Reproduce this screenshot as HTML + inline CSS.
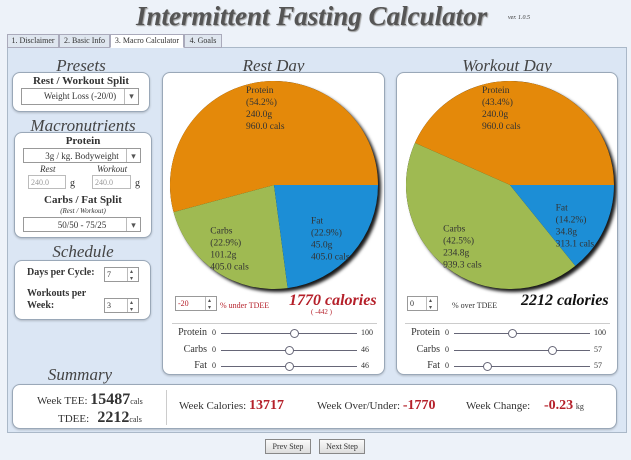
<!DOCTYPE html>
<html><head><meta charset="utf-8">
<style>
*{box-sizing:border-box}
body{margin:0;width:631px;height:460px;overflow:hidden;background:#edf2f9;font-family:"Liberation Serif",serif;color:#333;position:relative}
.a{position:absolute}
.h{font-style:italic;font-size:17px;color:#444;text-align:center}
.box{position:absolute;background:#fff;border:1px solid #9aa8b8;border-radius:8px;box-shadow:0 1px 2px rgba(0,0,0,.2)}
.sel{position:absolute;background:#fff;border:1px solid #999;font-size:9px;text-align:center;line-height:15px;color:#333}
.sel:after{content:"▾";position:absolute;right:0;top:0;width:13px;height:100%;border-left:1px solid #bbb;font-size:9px;line-height:15px;color:#555}
.inp{position:absolute;background:#fff;border:1px solid #bbb;font-size:8px;color:#999;padding-left:2px;line-height:13px}
.spin{position:absolute;background:#fff;border:1px solid #999;font-size:8px;padding-left:2px;line-height:14px}
.spin:after{content:"▴▾";position:absolute;right:0;top:0;width:10px;height:100%;border-left:1px solid #bbb;font-size:6px;line-height:6px;writing-mode:vertical-lr;text-align:center;color:#555}
.tab{position:absolute;top:34px;height:14px;border:1px solid #aab;background:#dfe6ef;font-size:8px;line-height:12px;text-align:center;color:#333}
.b{font-weight:bold}
.red{color:#b5202a}
.btn{position:absolute;top:439px;height:15px;border:1px solid #888;background:linear-gradient(#fafafa,#ddd);font-size:8px;line-height:13px;text-align:center}
</style></head><body>
<div class="a" style="left:136px;top:1px;font-size:27px;font-weight:bold;font-style:italic;color:#555;text-shadow:1px 1px 1px #999">Intermittent Fasting Calculator</div>
<div class="a" style="left:508px;top:15px;font-size:6px;font-style:italic">ver. 1.0.5</div>
<div class="a" style="left:7px;top:47px;width:620px;height:386px;background:#dbe6f4;border:1px solid #aab8c8"></div>
<div class="tab" style="left:7px;width:52px">1. Disclaimer</div>
<div class="tab" style="left:59px;width:51px">2. Basic Info</div>
<div class="tab" style="left:110px;width:74px;background:#fff;border-bottom-color:#fff">3. Macro Calculator</div>
<div class="tab" style="left:184px;width:38px">4. Goals</div>

<div class="a h" style="left:12px;top:56px;width:138px">Presets</div>
<div class="box" style="left:12px;top:72px;width:138px;height:40px">
 <div class="a b" style="left:0;top:2px;width:136px;text-align:center;font-size:11px">Rest / Workout Split</div>
 <div class="sel" style="left:8px;top:15px;width:118px;height:17px">Weight Loss (-20/0)</div>
</div>
<div class="a h" style="left:14px;top:116px;width:138px">Macronutrients</div>
<div class="box" style="left:14px;top:132px;width:138px;height:106px">
 <div class="a b" style="left:0;top:2px;width:136px;text-align:center;font-size:11px">Protein</div>
 <div class="sel" style="left:8px;top:15px;width:118px;height:15px">3g / kg. Bodyweight</div>
 <div class="a" style="left:25px;top:31px;font-size:9px;font-style:italic">Rest</div>
 <div class="a" style="left:82px;top:31px;font-size:9px;font-style:italic">Workout</div>
 <div class="inp" style="left:13px;top:42px;width:38px;height:14px">240.0</div>
 <div class="a" style="left:55px;top:45px;font-size:10px">g</div>
 <div class="inp" style="left:77px;top:42px;width:39px;height:14px">240.0</div>
 <div class="a" style="left:120px;top:45px;font-size:10px">g</div>
 <div class="a b" style="left:0;top:61px;width:136px;text-align:center;font-size:11px">Carbs / Fat Split</div>
 <div class="a" style="left:0;top:74px;width:136px;text-align:center;font-size:7px;font-style:italic">(Rest / Workout)</div>
 <div class="sel" style="left:8px;top:84px;width:118px;height:15px">50/50 - 75/25</div>
</div>
<div class="a h" style="left:14px;top:242px;width:138px">Schedule</div>
<div class="box" style="left:14px;top:260px;width:137px;height:60px">
 <div class="a b" style="left:12px;top:6px;font-size:10px">Days per Cycle:</div>
 <div class="spin" style="left:89px;top:6px;width:35px;height:15px">7</div>
 <div class="a b" style="left:12px;top:27px;font-size:10px;line-height:12px">Workouts per<br>Week:</div>
 <div class="spin" style="left:89px;top:37px;width:35px;height:15px">3</div>
</div>

<div class="a h" style="left:162px;top:56px;width:223px">Rest Day</div>
<div class="box" style="left:162px;top:72px;width:223px;height:303px;overflow:hidden"></div>
<div class="a h" style="left:396px;top:56px;width:222px">Workout Day</div>
<div class="box" style="left:396px;top:72px;width:222px;height:303px;overflow:hidden"></div>

<svg class="a" id="pies" style="left:0;top:0" width="631" height="460">
 <defs><filter id="sh" x="-20%" y="-20%" width="150%" height="150%"><feDropShadow dx="3" dy="3" stdDeviation="1.5" flood-color="#000" flood-opacity="0.9"/></filter>
 <clipPath id="c1"><rect x="163" y="73" width="221" height="300"/></clipPath>
 <clipPath id="c2"><rect x="397" y="73" width="220" height="300"/></clipPath></defs>
</svg>

<div class="spin" style="left:175px;top:296px;width:42px;height:15px;color:#b5202a">-20</div>
<div class="a red" style="left:220px;top:301px;font-size:8px">% under TDEE</div>
<div class="a red b" style="left:289px;top:292px;font-size:16px;font-style:italic">1770 calories</div>
<div class="a red" style="left:311px;top:308px;font-size:7px">( -442 )</div>
<div class="spin" style="left:407px;top:296px;width:31px;height:15px">0</div>
<div class="a" style="left:452px;top:301px;font-size:8px">% over TDEE</div>
<div class="a b" style="left:521px;top:292px;font-size:16px;font-style:italic;color:#111">2212 calories</div>
<div class="a" style="left:172px;top:323px;width:205px;height:1px;background:#ccc"></div>
<div class="a" style="left:405px;top:323px;width:205px;height:1px;background:#ccc"></div>
<div id="sliders"></div>

<div class="a h" style="left:30px;top:365px;width:100px">Summary</div>
<div class="box" style="left:12px;top:384px;width:605px;height:45px">
 <div class="a" style="left:24px;top:6px;font-size:11px">Week TEE: <b style="font-size:16px">15487</b><span style="font-size:8px">cals</span></div>
 <div class="a" style="left:45px;top:24px;font-size:11px">TDEE: &nbsp; <b style="font-size:16px">2212</b><span style="font-size:8px">cals</span></div>
 <div class="a" style="left:153px;top:5px;width:1px;height:35px;background:#ccc"></div>
 <div class="a" style="left:166px;top:13px;font-size:11px">Week Calories: <b class="red" style="font-size:14px">13717</b></div>
 <div class="a" style="left:304px;top:13px;font-size:11px">Week Over/Under: <b class="red" style="font-size:14px">-1770</b></div>
 <div class="a" style="left:453px;top:13px;font-size:11px">Week Change: &nbsp; &nbsp; <b class="red" style="font-size:14px">-0.23</b> <span style="font-size:8px">kg</span></div>
</div>
<div class="btn" style="left:265px;width:46px">Prev Step</div>
<div class="btn" style="left:319px;width:46px">Next Step</div>

<script>
const macroNames=["Protein","Carbs","Fat"];
const restPct=[54.2,22.9,22.9];
const restGrams=["240.0g","101.2g","45.0g"];
const restCals=["960.0 cals","405.0 cals","405.0 cals"];
const workoutPct=[43.4,42.5,14.2];
const workoutGrams=["240.0g","234.8g","34.8g"];
const workoutCals=["960.0 cals","939.3 cals","313.1 cals"];
const restSliderVals=[54,23,23];
const restSliderMax=[100,46,46];
const workoutSliderVals=[43,41,14];
const workoutSliderMax=[100,57,57];
const colors=["#e4890a","#9fba52","#1c8ed6"];
const NS="http://www.w3.org/2000/svg";
const svg=document.getElementById('pies');
function pie(cx,cy,r,pct,grams,cals,clip,name){
  const g=document.createElementNS(NS,'g');g.setAttribute('clip-path','url(#'+clip+')');svg.appendChild(g);
  const bg=document.createElementNS(NS,'circle');bg.setAttribute('cx',cx);bg.setAttribute('cy',cy);bg.setAttribute('r',r);bg.setAttribute('fill','#000');bg.setAttribute('filter','url(#sh)');g.appendChild(bg);
  const tot=pct.reduce((a,b)=>a+b,0);let a0=0;
  pct.forEach((p,i)=>{
    const a1=a0+p/tot*2*Math.PI;
    const x0=cx+r*Math.cos(a0),y0=cy-r*Math.sin(a0),x1=cx+r*Math.cos(a1),y1=cy-r*Math.sin(a1);
    const path=document.createElementNS(NS,'path');
    path.setAttribute('d',`M${cx},${cy}L${x0},${y0}A${r},${r} 0 ${a1-a0>Math.PI?1:0} 0 ${x1},${y1}Z`);
    path.setAttribute('fill',colors[i]);
    
    
    g.appendChild(path);
    const mid=(a0+a1)/2, lr=r*0.55;
    let lx=cx+lr*Math.cos(mid)-12+(i===1?-20:6), ly=cy-lr*Math.sin(mid)+1;
    if(i===0){ly=cy-r+12;lx=cx-28;}
    const lines=[macroNames[i],'('+p.toFixed(1)+'%)',grams[i],cals[i]];
    lines.forEach((t,k)=>{const tx=document.createElementNS(NS,'text');tx.setAttribute('x',lx);tx.setAttribute('y',ly+k*12);tx.setAttribute('font-size','9.5');tx.setAttribute('fill','#333');tx.setAttribute('font-family','Liberation Serif, serif');tx.textContent=t;
      
      
      g.appendChild(tx);});
    a0=a1;
  });
}
pie(274,185,104,restPct,restGrams,restCals,'c1','rest-pie');
pie(510,185,104,workoutPct,workoutGrams,workoutCals,'c2','workout-pie');
const sl=document.getElementById('sliders');
function sliders(lblRight,vals,maxs,name){
  const x0=lblRight+14,x1=x0+136;
  macroNames.forEach((n,i)=>{
    const y=333+i*16.5;
    const d=document.createElement('div');d.className='a';d.style.cssText=`left:0;top:0`;
    d.innerHTML=`<div class="a" style="left:${lblRight-60}px;top:${y-6}px;width:60px;text-align:right;font-size:10px">${n}</div>
<div class="a" style="left:${lblRight+5}px;top:${y-5}px;font-size:8px">0</div>
<div class="a" style="left:${x0}px;top:${y}px;width:${x1-x0}px;height:1px;background:#667"></div>
<div class="a" style="left:${x1+4}px;top:${y-5}px;font-size:8px">${maxs[i]}</div>
<div class="a" style="left:${x0+(vals[i]/maxs[i])*(x1-x0)-4}px;top:${y-4}px;width:9px;height:9px;border-radius:50%;border:1px solid #667;background:#fff"></div>`;
    
    
    sl.appendChild(d);
  });
}
sliders(207,restSliderVals,restSliderMax,'rest');
sliders(440,workoutSliderVals,workoutSliderMax,'workout');
</script>
</body></html>
